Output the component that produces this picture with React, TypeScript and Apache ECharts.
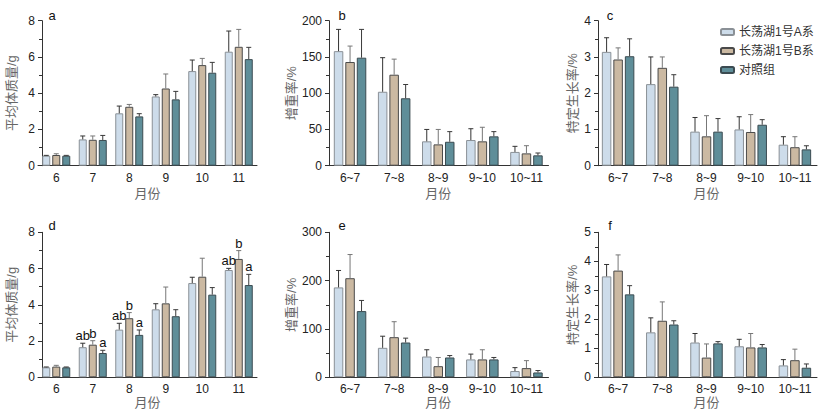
import React, { useEffect, useRef } from "react";
import * as echarts from "echarts";

const FONT = '"Liberation Sans", Arial, "Noto Sans CJK SC", sans-serif';

const monthCats = ["6", "7", "8", "9", "10", "11"];
const periodCats = ["6~7", "7~8", "8~9", "9~10", "10~11"];
const seriesNames = ["长荡湖1号A系", "长荡湖1号B系", "对照组"];

// panel a: 平均体质量 (mean, sd)
const aA = [0.55, 1.45, 2.89, 3.82, 5.22, 6.29];
const aASd = [0.02, 0.19, 0.4, 0.1, 0.61, 1.14];
const aB = [0.59, 1.43, 3.25, 4.26, 5.55, 6.56];
const aBSd = [0.07, 0.21, 0.13, 0.8, 0.37, 0.96];
const aC = [0.55, 1.42, 2.72, 3.66, 5.13, 5.88];
const aCSd = [0.02, 0.25, 0.15, 0.44, 0.57, 0.65];

// panel b: 增重率
const bA = [158, 102, 33.6, 35.4, 19];
const bASd = [30, 47, 16.4, 15.6, 7.7];
const bB = [143, 125.5, 29.4, 33.6, 17];
const bBSd = [22, 21.5, 20.6, 19.4, 10.6];
const bC = [149, 93, 33, 40.5, 14.3];
const bCSd = [39, 19, 14, 6.5, 3.2];

// panel c: 特定生长率
const cA = [3.14, 2.25, 0.94, 1.0, 0.58];
const cASd = [0.39, 0.75, 0.39, 0.35, 0.22];
const cB = [2.93, 2.7, 0.81, 0.93, 0.51];
const cBSd = [0.32, 0.3, 0.57, 0.48, 0.29];
const cC = [3.02, 2.18, 0.94, 1.13, 0.45];
const cCSd = [0.48, 0.33, 0.36, 0.14, 0.1];

// panel d: 平均体质量
const dA = [0.55, 1.66, 2.63, 3.75, 5.2, 5.92];
const dASd = [0.02, 0.22, 0.35, 0.31, 0.32, 0.09];
const dB = [0.59, 1.8, 3.26, 4.08, 5.55, 6.53];
const dBSd = [0.07, 0.22, 0.31, 0.9, 1.02, 0.46];
const dC = [0.55, 1.34, 2.34, 3.37, 4.56, 5.09];
const dCSd = [0.02, 0.15, 0.27, 0.36, 0.39, 0.59];
const dLetA = ["", "ab", "ab", "", "", "ab"];
const dLetB = ["", "b", "b", "", "", "b"];
const dLetC = ["", "a", "a", "", "", "a"];

// panel e: 增重率
const eA = [186, 61, 43, 37, 13];
const eASd = [35, 24, 14, 11, 7];
const eB = [205, 83, 23, 37, 19];
const eBSd = [49, 32, 18, 20, 15.5];
const eC = [137, 72, 41, 37, 10];
const eCSd = [22, 9, 4, 4, 4];

// panel f: 特定生长率
const fA = [3.48, 1.55, 1.2, 1.07, 0.41];
const fASd = [0.41, 0.5, 0.31, 0.24, 0.2];
const fB = [3.68, 1.95, 0.68, 1.03, 0.59];
const fBSd = [0.54, 0.65, 0.47, 0.48, 0.38];
const fC = [2.86, 1.82, 1.17, 1.03, 0.33];
const fCSd = [0.3, 0.13, 0.06, 0.1, 0.13];

const fills = ["#cddcea", "#cbb9a2", "#5f8e99"];
const borders = ["#8a9096", "#4a4a4a", "#3b4b51"];
const errColors = ["#333333", "#777777", "#3a3a3a"];

type Panel = {
  letter: string;
  cats: string[];
  means: number[][];
  sds: number[][];
  letters?: string[][];
  left: number;
  top: number;
  width: number;
  yMax: number;
  interval: number;
  yName: string;
  nameGap: number;
  xNameGap: number;
  barW: number;
  barGap: string;
  yOffset: number;
  lx: number;
  ly: number;
};

const TOP1 = 20.7;
const TOP2 = 232.3;
const H = 145;

const panels: Panel[] = [
  { letter: "a", cats: monthCats, means: [aA, aB, aC], sds: [aASd, aBSd, aCSd], left: 38, top: TOP1, width: 219, yMax: 8, interval: 2, yName: "平均体质量/g", nameGap: 24, xNameGap: 21, barW: 8, barGap: "25%", yOffset: -4, lx: 52, ly: 15 },
  { letter: "b", cats: periodCats, means: [bA, bB, bC], sds: [bASd, bBSd, bCSd], left: 328, top: TOP1, width: 220.5, yMax: 200, interval: 50, yName: "增重率/%", nameGap: 29, xNameGap: 21, barW: 9.5, barGap: "21%", yOffset: -1, lx: 342, ly: 15 },
  { letter: "c", cats: periodCats, means: [cA, cB, cC], sds: [cASd, cBSd, cCSd], left: 596, top: TOP1, width: 221, yMax: 4, interval: 1, yName: "特定生长率/%", nameGap: 19, xNameGap: 21, barW: 9.5, barGap: "21%", yOffset: -2, lx: 610, ly: 15 },
  { letter: "d", cats: monthCats, means: [dA, dB, dC], sds: [dASd, dBSd, dCSd], letters: [dLetA, dLetB, dLetC], left: 38, top: TOP2, width: 219, yMax: 8, interval: 2, yName: "平均体质量/g", nameGap: 24, xNameGap: 19, barW: 8, barGap: "25%", yOffset: -4, lx: 52, ly: 225 },
  { letter: "e", cats: periodCats, means: [eA, eB, eC], sds: [eASd, eBSd, eCSd], left: 328, top: TOP2, width: 220.5, yMax: 300, interval: 100, yName: "增重率/%", nameGap: 29, xNameGap: 19, barW: 9.5, barGap: "21%", yOffset: -1, lx: 342, ly: 225 },
  { letter: "f", cats: periodCats, means: [fA, fB, fC], sds: [fASd, fBSd, fCSd], left: 596, top: TOP2, width: 221, yMax: 5, interval: 1, yName: "特定生长率/%", nameGap: 19, xNameGap: 19, barW: 9.5, barGap: "21%", yOffset: -2, lx: 610, ly: 225 },
];

function buildOption() {
  const grid: any[] = [];
  const xAxis: any[] = [];
  const yAxis: any[] = [];
  const series: any[] = [];
  const graphic: any[] = [];

  panels.forEach((p, i) => {
    grid.push({ left: p.left, top: p.top, width: p.width, height: H, containLabel: false });
    xAxis.push({
      type: "category",
      gridIndex: i,
      data: p.cats,
      axisLine: { lineStyle: { color: "#333", width: 1 } },
      axisTick: { show: true, inside: true, alignWithLabel: true, length: 3, lineStyle: { color: "#6b5a4a" } },
      axisLabel: { fontSize: 12, color: "#222", margin: 6, interval: 0, fontFamily: FONT },
      name: "月份",
      nameLocation: "middle",
      nameGap: p.xNameGap,
      nameTextStyle: { fontSize: 13, color: "#666", fontFamily: FONT },
      splitLine: { show: false },
    });
    yAxis.push({
      type: "value",
      gridIndex: i,
      min: 0,
      max: p.yMax,
      interval: p.interval,
      offset: p.yOffset,
      axisLine: { show: true, lineStyle: { color: "#333", width: 1 } },
      axisTick: { show: true, inside: false, length: 4, lineStyle: { color: "#333" } },
      minorTick: { show: true, splitNumber: 2, length: 3, lineStyle: { color: "#333" } },
      splitLine: { show: false },
      minorSplitLine: { show: false },
      axisLabel: { fontSize: 12, color: "#222", margin: 7, fontFamily: FONT },
      name: p.yName,
      nameLocation: "middle",
      nameGap: p.nameGap,
      nameTextStyle: { fontSize: 13, color: "#666", fontFamily: FONT },
    });

    const gapPx = p.barW * (parseFloat(p.barGap) / 100);
    [0, 1, 2].forEach((s) => {
      series.push({
        type: "bar",
        name: seriesNames[s],
        xAxisIndex: i,
        yAxisIndex: i,
        data: p.means[s],
        barWidth: p.barW,
        barGap: p.barGap,
        itemStyle: { color: fills[s], borderColor: borders[s], borderWidth: 1 },
        silent: true,
      });
    });
    [0, 1, 2].forEach((s) => {
      const offset = (s - 1) * (p.barW + gapPx);
      const lets = p.letters ? p.letters[s] : null;
      series.push({
        type: "custom",
        xAxisIndex: i,
        yAxisIndex: i,
        silent: true,
        z: 5,
        data: p.means[s].map((m, k) => [k, m, m + p.sds[s][k]]),
        encode: { x: 0, y: [1, 2] },
        renderItem: (params: any, api: any) => {
          const k = api.value(0);
          const base = api.coord([k, api.value(1)]);
          const top = api.coord([k, api.value(2)]);
          const x = base[0] + offset;
          const children: any[] = [
            { type: "line", shape: { x1: x, y1: base[1], x2: x, y2: top[1] }, style: { stroke: errColors[s], lineWidth: 1 } },
            { type: "line", shape: { x1: x - 2.5, y1: top[1], x2: x + 2.5, y2: top[1] }, style: { stroke: errColors[s], lineWidth: 1 } },
          ];
          const t = lets ? lets[params.dataIndex] : "";
          if (t) {
            children.push({
              type: "text",
              x: x,
              y: top[1] - 1,
              style: { text: t, fontSize: 13, fill: "#111", align: "center", verticalAlign: "bottom", fontFamily: FONT },
            });
          }
          return { type: "group", children };
        },
      });
    });

    graphic.push({
      type: "text",
      x: p.lx,
      y: p.ly,
      style: { text: p.letter, fontSize: 13, fill: "#111", align: "center", verticalAlign: "middle", fontFamily: FONT },
    });
  });

  return {
    animation: false,
    backgroundColor: "#ffffff",
    textStyle: { fontFamily: FONT },
    grid,
    xAxis,
    yAxis,
    series,
    graphic,
    legend: {
      data: seriesNames,
      orient: "vertical",
      left: 715,
      top: 21,
      itemWidth: 13,
      itemHeight: 6,
      itemGap: 7,
      selectedMode: false,
      textStyle: { fontSize: 12, color: "#333", fontFamily: FONT },
    },
  };
}

export default function App() {
  const ref = useRef<HTMLDivElement>(null);
  useEffect(() => {
    document.body.style.margin = "0";
    if (!ref.current) return;
    const chart = echarts.init(ref.current, undefined, { renderer: "svg" });
    chart.setOption(buildOption() as any);
    return () => chart.dispose();
  }, []);
  return <div ref={ref} style={{ width: 831, height: 418 }} />;
}
